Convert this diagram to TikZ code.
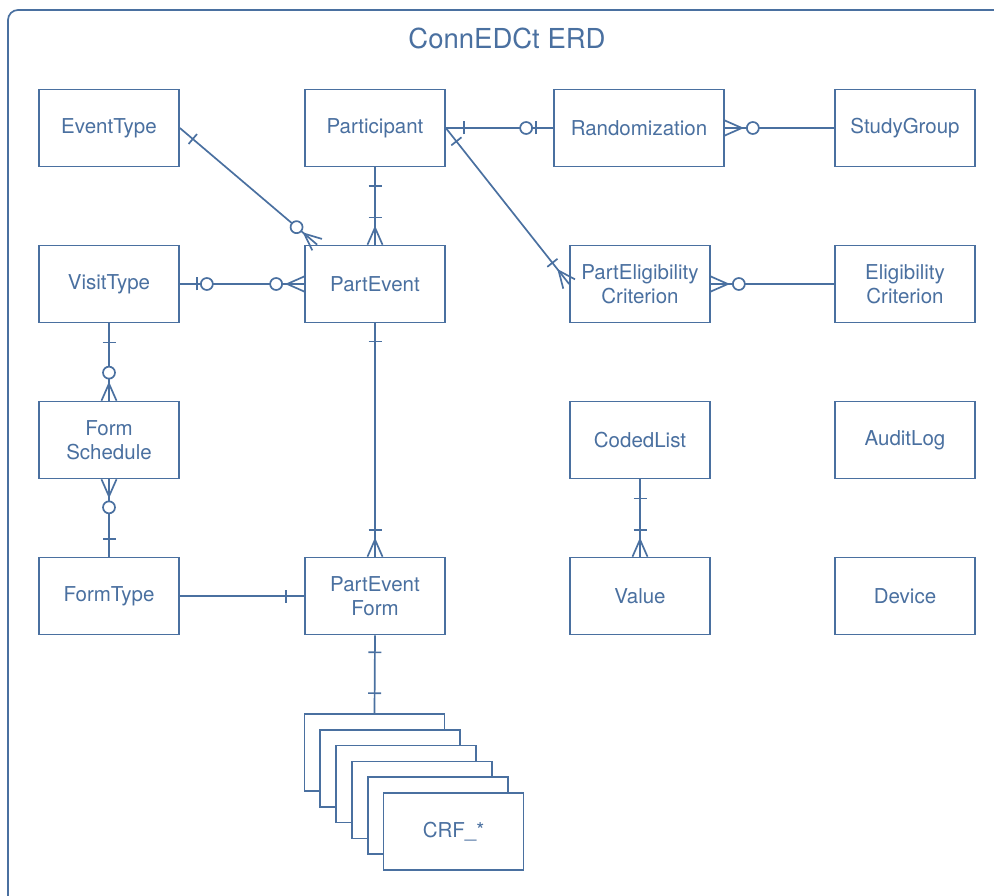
\documentclass[tikz,border=0pt]{standalone}
\usepackage{fontspec}
\setmainfont{TeX Gyre Heros}
\usepackage{tikz}
\usetikzlibrary{decorations.markings}

\definecolor{erblue}{RGB}{74,112,160}

\tikzset{
  entity/.style={draw=erblue,line width=1.7pt,fill=white,text=erblue,
    minimum width=140pt,minimum height=77pt,inner sep=2pt,align=center,
    font=\fontsize{20.5}{24}\selectfont},
  rel/.style={draw=erblue,line width=1.7pt},
  tick at/.style={postaction={decorate,decoration={markings,
    mark=at position #1 with {\draw[erblue,line width=1.7pt] (0pt,-6.5pt) -- (0pt,6.5pt);}}}},
  ring at/.style={postaction={decorate,decoration={markings,
    mark=at position #1 with {\draw[erblue,line width=1.7pt,fill=white] (0pt,0pt) circle (6pt);}}}},
  crow end/.style={postaction={decorate,decoration={markings,
    mark=at position 1 with {\draw[erblue,line width=1.7pt] (0pt,7.5pt) -- (-17pt,0pt) -- (0pt,-7.5pt);}}}},
  crow start/.style={postaction={decorate,decoration={markings,
    mark=at position 0 with {\draw[erblue,line width=1.7pt] (0pt,7.5pt) -- (17pt,0pt) -- (0pt,-7.5pt);}}}}
}

\begin{document}
\begin{tikzpicture}[x=1pt,y=-1pt]
  \useasboundingbox (0,0) rectangle (994,896);
  \begin{scope}
    \clip (0,0) rectangle (994,896);
    \draw[erblue,line width=1.7pt,rounded corners=10pt] (8,10) rectangle (1020,930);
  \end{scope}
  \node[text=erblue,font=\fontsize{27.5}{32}\selectfont] (title) at (507,38) {ConnEDCt ERD};
  % entities
  \node[entity] (evtype) at (109,128) {EventType};
  \node[entity] (part) at (375,128) {Participant};
  \node[entity,minimum width=170pt] (rand) at (639,128) {Randomization};
  \node[entity] (studygrp) at (905,128) {StudyGroup};
  \node[entity] (visittype) at (109,284) {VisitType};
  \node[entity] (partevent) at (375,284) {PartEvent};
  \node[entity] (parteligcrit) at (640,284) {PartEligibility\\Criterion};
  \node[entity] (eligcrit) at (905,284) {Eligibility\\Criterion};
  \node[entity] (formsched) at (109,440) {Form\\Schedule};
  \node[entity] (codedlist) at (640,440) {CodedList};
  \node[entity] (auditlog) at (905,440) {AuditLog};
  \node[entity] (formtype) at (109,596) {FormType};
  \node[entity] (parteventform) at (375,596) {PartEvent\\Form};
  \node[entity] (value) at (640,596) {Value};
  \node[entity] (device) at (905,596) {Device};
  % CRF stack
  \foreach \i in {0,...,4}
    \node[entity] (crf\i) at (374.5+15.8*\i,752.5+15.8*\i) {};
  \node[entity] (crf5) at (453.5,831.5) {CRF\_*};
  % relationships
  \draw[rel,tick at=17pt,ring at=-27pt,crow end] (evtype.east) -- ([xshift=13pt]partevent.north west);
  \draw[rel,tick at=19pt,tick at=-27pt,crow end] (part.south) -- (partevent.north);
  \draw[rel,tick at=17pt,ring at=27pt,ring at=-28pt,crow end] (visittype.east) -- (partevent.west);
  \draw[rel,tick at=18pt,ring at=-27pt,tick at=-17pt] (part.east) -- (rand.west);
  \draw[rel,crow start,ring at=28pt] (rand.east) -- (studygrp.west);
  \draw[rel,tick at=17pt,tick at=-27pt,crow end] (part.east) -- (parteligcrit.west);
  \draw[rel,crow start,ring at=28pt] (parteligcrit.east) -- (eligcrit.west);
  \draw[rel,tick at=19pt,ring at=-28pt,crow end] (visittype.south) -- (formsched.north);
  \draw[rel,tick at=18pt,ring at=-28pt,crow end] (formtype.north) -- (formsched.south);
  \draw[rel,tick at=18pt,tick at=-27pt,crow end] (partevent.south) -- (parteventform.north);
  \draw[rel,tick at=-18pt] (formtype.east) -- (parteventform.west);
  \draw[rel,tick at=19pt,tick at=-27pt,crow end] (codedlist.south) -- (value.north);
  \draw[rel,tick at=17pt,tick at=-20pt] (parteventform.south) -- (crf0.north);
\end{tikzpicture}
\end{document}
